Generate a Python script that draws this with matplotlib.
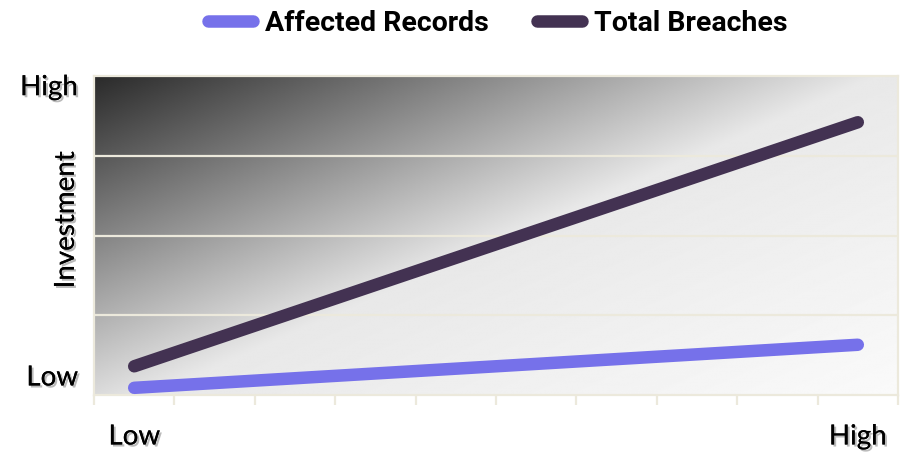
import numpy as np
import matplotlib
matplotlib.use("Agg")
import matplotlib.pyplot as plt
from matplotlib import patheffects as pe
from matplotlib.lines import Line2D

# Data
categories = ["Low", "", "", "", "", "", "", "", "", "High"]
series_names = ["Affected Records", "Total Breaches"]
x_idx = [0, 9]
affected_records = [0.09, 0.63]
total_breaches = [0.36, 3.42]
y_tick_pos = [0.22, 3.86]
y_tick_labels = ["Low", "High"]

colors = {"Affected Records": "#7671ea", "Total Breaches": "#433252"}
grid_color = "#ece9dc"

plt.rcParams["font.family"] = ["Lato", "DejaVu Sans"]

fig = plt.figure(figsize=(9.08, 4.54), dpi=100)
ax = fig.add_axes([94 / 908, 1 - 395 / 454, (898 - 94) / 908, (395 - 76) / 454])

# Diagonal gradient background: dark at top-left, fading to near white
n = 500
gx, gy = np.meshgrid(np.linspace(0, 1, n), np.linspace(0, 1, n))
t = 1.03 * gx + 0.93 * gy
c0, c_mid, c1 = 0.165, 0.91, 0.98
img = np.where(t <= 1, c0 + (c_mid - c0) * t,
               c_mid + (c1 - c_mid) * (t - 1) / (t.max() - 1))
ax.imshow(img, cmap="gray", vmin=0, vmax=1, extent=(-0.5, 9.5, 0, 4),
          origin="upper", aspect="auto", zorder=0, interpolation="bilinear")
ax.set_xlim(-0.5, 9.5)
ax.set_ylim(0, 4)

# Horizontal gridlines
for yv in [1, 2, 3]:
    ax.axhline(yv, color=grid_color, lw=1.6, zorder=1)

ax.plot(x_idx, affected_records, color=colors["Affected Records"], lw=9,
        solid_capstyle="round", zorder=3)
ax.plot(x_idx, total_breaches, color=colors["Total Breaches"], lw=9,
        solid_capstyle="round", zorder=3)

for s in ["left", "bottom", "right", "top"]:
    ax.spines[s].set_color(grid_color)
    ax.spines[s].set_linewidth(1.6)

text_shadow = [pe.withSimplePatchShadow(offset=(1.5, -1.5), shadow_rgbFace="#555555", alpha=0.4),
               pe.Normal()]

# X axis: category boundaries as ticks
ax.set_xticks(np.arange(-0.5, 10, 1))
ax.set_xticklabels([])
ax.tick_params(axis="x", length=7, width=1.6, color=grid_color, direction="out")
for i, lab in enumerate(categories):
    if lab:
        t_ = ax.text(i, -0.52, lab, ha="center", va="center", fontsize=20, clip_on=False)
        t_.set_path_effects(text_shadow)

ax.set_yticks([])
for yp, lab in zip(y_tick_pos, y_tick_labels):
    t_ = ax.text(-0.7, yp, lab, ha="right", va="center", fontsize=20, clip_on=False)
    t_.set_path_effects(text_shadow)

yl = ax.text(-0.85, 2.2, "Investment", rotation=90, ha="center", va="center",
             fontsize=20, clip_on=False)
yl.set_path_effects(text_shadow)

handles = [Line2D([0], [0], color=colors[nm], lw=9, solid_capstyle="round") for nm in series_names]
leg = fig.legend(handles, series_names, loc="upper center", bbox_to_anchor=(0.548, 1.035),
                 ncol=2, frameon=False, handlelength=1.6, handletextpad=0.4,
                 columnspacing=1.7,
                 prop={"family": ["Roboto", "DejaVu Sans"], "weight": "bold", "size": 20.5})

fig.savefig("out.png", dpi=100)
